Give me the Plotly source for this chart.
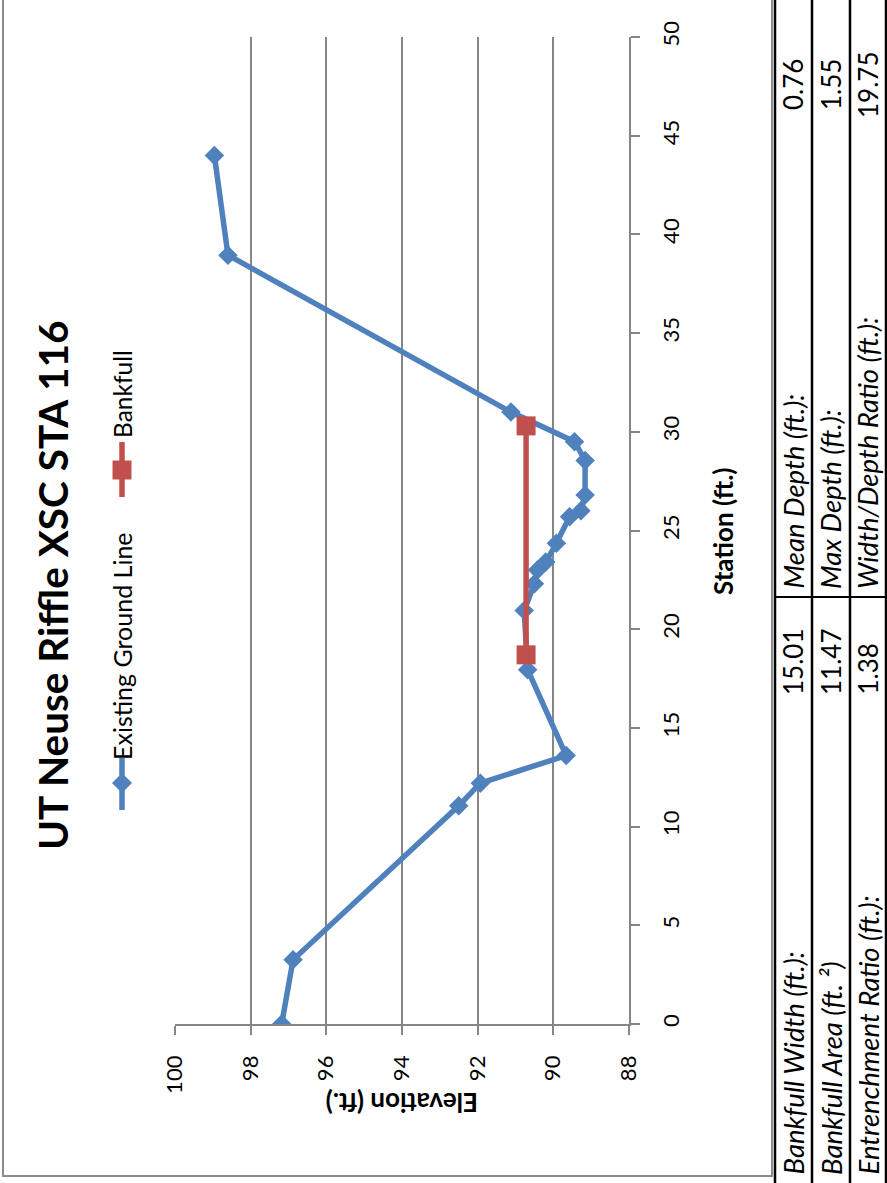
import plotly.graph_objects as go

W, H = 887, 1183

# ---- data ----
ground_station = [0.0, 3.25, 11.05, 12.2, 13.6, 17.95, 20.95, 22.3, 23.0, 23.4, 24.35, 25.7, 26.0, 26.8, 28.55, 29.5, 31.0, 38.95, 44.0]
ground_elev = [97.18, 96.88, 92.5, 91.93, 89.66, 90.68, 90.77, 90.5, 90.42, 90.2, 89.92, 89.57, 89.27, 89.16, 89.16, 89.44, 91.12, 98.6, 98.96]
bank_station = [18.7, 30.3]
bank_elev = [90.72, 90.72]

elev_ticks = [100, 98, 96, 94, 92, 90, 88]
station_ticks = [0, 5, 10, 15, 20, 25, 30, 35, 40, 45, 50]

title = "UT Neuse Riffle XSC STA 116"
series_names = ["Existing Ground Line", "Bankfull"]
table_labels = [["Bankfull Width (ft.):", "Bankfull Area (ft. ²)", "Entrenchment Ratio (ft.):"],
                ["Mean Depth (ft.):", "Max Depth (ft.):", "Width/Depth Ratio (ft.):"]]
table_values = [["15.01", "11.47", "1.38"], ["0.76", "1.55", "19.75"]]

BLUE = "#4F81BD"
RED = "#C0504D"
GRID = "#868686"
FONT = "Lato"


def px(x):
    return x / W


def py(y):
    return 1 - y / H


fig = go.Figure()
fig.add_trace(go.Scatter(x=ground_elev, y=ground_station, mode="lines+markers",
                         line=dict(color=BLUE, width=5.5),
                         marker=dict(symbol="diamond", size=15, color=BLUE),
                         name=series_names[0], showlegend=False))
fig.add_trace(go.Scatter(x=bank_elev, y=bank_station, mode="lines+markers",
                         line=dict(color=RED, width=5.5),
                         marker=dict(symbol="square", size=19, color=RED),
                         name=series_names[1], showlegend=False))

fig.update_layout(
    width=W, height=H, margin=dict(l=0, r=0, t=0, b=0, pad=0, autoexpand=False),
    showlegend=False,
    paper_bgcolor="white", plot_bgcolor="white",
    font=dict(family=FONT, color="black"),
    xaxis=dict(domain=[px(175), px(629)], range=[100, 88], tickvals=elev_ticks,
               showgrid=True, gridcolor=GRID, gridwidth=1.6,
               showline=True, linecolor=GRID, linewidth=1.6,
               ticks="outside", ticklen=9, tickwidth=1.6, tickcolor=GRID,
               tickangle=-90, tickfont=dict(size=22, family=FONT, color="black"),
               ticklabelstandoff=12, zeroline=False, fixedrange=True, automargin=False),
    yaxis=dict(domain=[py(1024), py(37)], range=[0, 50], tickvals=station_ticks,
               side="right", showgrid=False,
               showline=True, linecolor=GRID, linewidth=1.6,
               ticks="outside", ticklen=9, tickwidth=1.6, tickcolor=GRID,
               tickangle=-90, tickfont=dict(size=22, family=FONT, color="black"),
               ticklabelstandoff=13, zeroline=False, fixedrange=True, automargin=False),
)

shapes = []
# chart border
shapes.append(dict(type="rect", xref="paper", yref="paper", x0=px(3), x1=px(772), y0=py(1176), y1=py(-5),
                   line=dict(color="#8C8C8C", width=2)))
# table lines
for x in [775, 812, 850, 886]:
    shapes.append(dict(type="line", xref="paper", yref="paper", x0=px(x), x1=px(x), y0=py(1190), y1=py(-5),
                       line=dict(color="black", width=2.5)))
shapes.append(dict(type="line", xref="paper", yref="paper", x0=px(774), x1=px(887), y0=py(597), y1=py(597),
                   line=dict(color="black", width=2)))
# legend glyphs
shapes.append(dict(type="line", xref="paper", yref="paper", x0=px(122), x1=px(122), y0=py(758), y1=py(810),
                   line=dict(color=BLUE, width=5.5)))
shapes.append(dict(type="path", xref="paper", yref="paper",
                   path=f"M {px(122)},{py(773)} L {px(132)},{py(783)} L {px(122)},{py(793)} L {px(112)},{py(783)} Z",
                   fillcolor=BLUE, line=dict(width=0)))
shapes.append(dict(type="line", xref="paper", yref="paper", x0=px(122), x1=px(122), y0=py(442), y1=py(497),
                   line=dict(color=RED, width=5.5)))
shapes.append(dict(type="rect", xref="paper", yref="paper", x0=px(112.5), x1=px(131.5), y0=py(479.5), y1=py(460.5),
                   fillcolor=RED, line=dict(width=0)))
fig.update_layout(shapes=shapes)


def add_text(text, x, y, size, xanchor="center", yanchor="middle", angle=-90):
    ann.append(dict(text=text, x=px(x), y=py(y), xref="paper", yref="paper",
                    xanchor=xanchor, yanchor=yanchor, textangle=angle, showarrow=False,
                    font=dict(size=size, family=FONT, color="black")))


ann = []
add_text(f"<b>{title}</b>", 52, 586, 40.5)
add_text("<b>Station (ft.)</b>", 723, 532, 26)
add_text("<b>Elevation (ft.)</b>", 402, 1103, 26, angle=180)
add_text(series_names[0], 122, 762, 25, yanchor="bottom")
add_text(series_names[1], 122, 440, 24.5, yanchor="bottom")

col_x = [793, 831, 868]
for i in range(3):
    add_text(f"<i>{table_labels[0][i]}</i>", col_x[i], 1177, 27.5, yanchor="bottom")
    add_text(table_values[0][i], col_x[i], 697, 26, yanchor="bottom")
    add_text(f"<i>{table_labels[1][i]}</i>", col_x[i], 591, 27.5, yanchor="bottom")
    add_text(table_values[1][i], col_x[i], 85, 26, yanchor="middle")
fig.update_layout(annotations=ann)

fig.write_html("out.html", config={"displayModeBar": False},
               post_script="document.body.style.margin='0px';")
